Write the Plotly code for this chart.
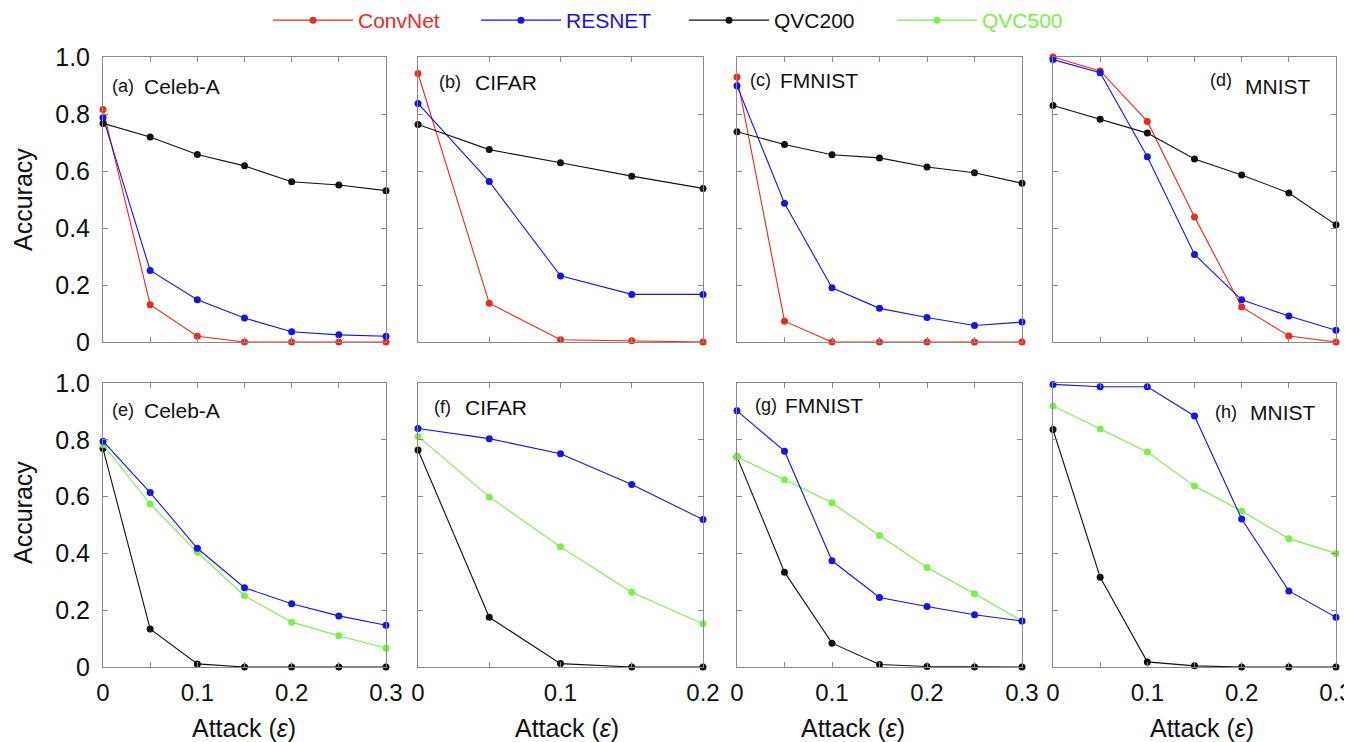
import plotly.graph_objects as go

# ---------------- data ----------------
eps7 = [0.0, 0.05, 0.10, 0.15, 0.20, 0.25, 0.30]
eps5 = [0.0, 0.05, 0.10, 0.15, 0.20]

# top row (a)-(d): ConvNet, RESNET, QVC200
celeba_convnet = [0.816, 0.131, 0.020, 0.0, 0.0, 0.0, 0.0]
celeba_resnet = [0.788, 0.251, 0.148, 0.084, 0.036, 0.025, 0.020]
celeba_qvc200 = [0.767, 0.719, 0.658, 0.618, 0.562, 0.551, 0.531]

cifar_convnet = [0.942, 0.136, 0.008, 0.004, 0.0]
cifar_resnet = [0.837, 0.563, 0.232, 0.167, 0.167]
cifar_qvc200 = [0.763, 0.675, 0.629, 0.582, 0.539]

fmnist_convnet = [0.930, 0.073, 0.0, 0.0, 0.0, 0.0, 0.0]
fmnist_resnet = [0.899, 0.487, 0.190, 0.118, 0.086, 0.058, 0.070]
fmnist_qvc200 = [0.738, 0.693, 0.657, 0.646, 0.614, 0.594, 0.557]

mnist_convnet = [1.000, 0.951, 0.774, 0.439, 0.123, 0.021, 0.0]
mnist_resnet = [0.991, 0.945, 0.650, 0.307, 0.148, 0.091, 0.041]
mnist_qvc200 = [0.830, 0.782, 0.733, 0.642, 0.586, 0.523, 0.411]

# bottom row (e)-(h): RESNET, QVC500, QVC200
celeba_b_resnet = [0.795, 0.614, 0.418, 0.279, 0.223, 0.180, 0.147]
celeba_b_qvc500 = [0.783, 0.574, 0.404, 0.251, 0.158, 0.110, 0.066]
celeba_b_qvc200 = [0.769, 0.134, 0.011, 0.0, 0.0, 0.0, 0.0]

cifar_b_resnet = [0.840, 0.804, 0.751, 0.643, 0.519]
cifar_b_qvc500 = [0.812, 0.599, 0.423, 0.263, 0.152]
cifar_b_qvc200 = [0.764, 0.175, 0.012, 0.0, 0.0]

fmnist_b_resnet = [0.902, 0.760, 0.374, 0.245, 0.213, 0.184, 0.162]
fmnist_b_qvc500 = [0.740, 0.659, 0.578, 0.463, 0.350, 0.258, 0.162]
fmnist_b_qvc200 = [0.740, 0.334, 0.084, 0.009, 0.002, 0.0, 0.0]

mnist_b_resnet = [0.995, 0.987, 0.987, 0.884, 0.521, 0.268, 0.175]
mnist_b_qvc500 = [0.919, 0.838, 0.757, 0.637, 0.549, 0.452, 0.400]
mnist_b_qvc200 = [0.836, 0.316, 0.018, 0.004, 0.0, 0.0, 0.0]

y_tick_vals = [0, 0.2, 0.4, 0.6, 0.8, 1.0]
y_tick_text = ["0", "0.2", "0.4", "0.6", "0.8", "1.0"]

panel_letters = ["(a)", "(b)", "(c)", "(d)", "(e)", "(f)", "(g)", "(h)"]
panel_names = ["Celeb-A", "CIFAR", "FMNIST", "MNIST", "Celeb-A", "CIFAR", "FMNIST", "MNIST"]

# ---------------- style ----------------
PAGE_W, PAGE_H = 1352, 742
OFF = 8  # default page body margin
W, H = PAGE_W - OFF, PAGE_H - OFF


def px(x):
    return (x - OFF) / W


def py(y):
    return 1 - (y - OFF) / H


FONT = "Arial, Liberation Sans, Helvetica, sans-serif"
COLORS = {"ConvNet": "#ee2a1e", "RESNET": "#1414ee", "QVC200": "#111111", "QVC500": "#7cef4c"}
RANK = {"ConvNet": 1, "RESNET": 2, "QVC200": 3, "QVC500": 4}
AXC = "#8a8a8a"

cols_px = [(103, 386), (418, 703), (737, 1022), (1053, 1336)]
rows_px = [(57, 342), (383, 667)]

panels = [
    (eps7, [("ConvNet", celeba_convnet), ("RESNET", celeba_resnet), ("QVC200", celeba_qvc200)]),
    (eps5, [("ConvNet", cifar_convnet), ("RESNET", cifar_resnet), ("QVC200", cifar_qvc200)]),
    (eps7, [("ConvNet", fmnist_convnet), ("RESNET", fmnist_resnet), ("QVC200", fmnist_qvc200)]),
    (eps7, [("ConvNet", mnist_convnet), ("RESNET", mnist_resnet), ("QVC200", mnist_qvc200)]),
    (eps7, [("QVC200", celeba_b_qvc200), ("QVC500", celeba_b_qvc500), ("RESNET", celeba_b_resnet)]),
    (eps5, [("QVC200", cifar_b_qvc200), ("QVC500", cifar_b_qvc500), ("RESNET", cifar_b_resnet)]),
    (eps7, [("QVC200", fmnist_b_qvc200), ("QVC500", fmnist_b_qvc500), ("RESNET", fmnist_b_resnet)]),
    (eps7, [("QVC200", mnist_b_qvc200), ("QVC500", mnist_b_qvc500), ("RESNET", mnist_b_resnet)]),
]

fig = go.Figure()
shown = set()
layout_axes = {}
for i, (xs, series) in enumerate(panels):
    r, c = divmod(i, 4)
    n = i + 1
    xa = "x" if n == 1 else f"x{n}"
    ya = "y" if n == 1 else f"y{n}"
    for name, vals in series:
        col = COLORS[name]
        fig.add_trace(go.Scatter(
            x=xs, y=vals, mode="lines+markers",
            name=f"<span style='color:{col}'>{name}</span>",
            legendgroup=name, showlegend=name not in shown, legendrank=RANK[name],
            line=dict(color=col, width=1.1),
            marker=dict(color=col, size=7),
            cliponaxis=False, xaxis=xa, yaxis=ya,
        ))
        shown.add(name)
    x0, x1 = cols_px[c]
    y0, y1 = rows_px[r]
    xmax = xs[-1]
    xt = [round(v, 2) for v in xs]
    xlabels = []
    for v in xt:
        if abs(v * 10 - round(v * 10)) < 1e-6:
            xlabels.append("0" if v == 0 else f"{v:.1f}")
        else:
            xlabels.append("")
    layout_axes[("xaxis" if n == 1 else f"xaxis{n}")] = dict(
        domain=[px(x0), px(x1)], range=[0, xmax], anchor=ya,
        showline=True, linecolor=AXC, linewidth=1, mirror="allticks",
        ticks="inside", ticklen=5, tickcolor=AXC, tickwidth=1,
        tickvals=xt, ticktext=xlabels, showticklabels=(r == 1),
        tickfont=dict(size=24, color="#111", family=FONT), ticklabelstandoff=4,
        ticklabeloverflow="allow",
        showgrid=False, zeroline=False, automargin=False,
    )
    layout_axes[("yaxis" if n == 1 else f"yaxis{n}")] = dict(
        domain=[py(y1), py(y0)], range=[0, 1.0], anchor=xa,
        showline=True, linecolor=AXC, linewidth=1, mirror="allticks",
        ticks="inside", ticklen=5, tickcolor=AXC, tickwidth=1,
        tickvals=y_tick_vals, ticktext=y_tick_text, showticklabels=(c == 0),
        tickfont=dict(size=25, color="#111", family=FONT), ticklabelstandoff=7,
        ticklabeloverflow="allow",
        showgrid=False, zeroline=False, automargin=False,
    )

fig.update_layout(**layout_axes)

ann = []
# panel labels
label_pos = [
    (110, 142, 86, 86), (437, 473, 82, 82), (748, 778, 80, 80), (1208, 1243, 80, 87),
    (110, 142, 410, 410), (432, 463, 407, 407), (753, 783, 405, 405), (1213, 1248, 412, 412),
]
for i, (lx, nx, ly, ny) in enumerate(label_pos):
    ann.append(dict(x=px(lx), y=py(ly), xref="paper", yref="paper", xanchor="left",
                    yanchor="middle", text=panel_letters[i], showarrow=False,
                    font=dict(size=18, color="#111", family=FONT)))
    ann.append(dict(x=px(nx), y=py(ny), xref="paper", yref="paper", xanchor="left",
                    yanchor="middle", text=panel_names[i], showarrow=False,
                    font=dict(size=21, color="#111", family=FONT)))
# axis titles
for yc in [200, 513]:
    ann.append(dict(x=px(23), y=py(yc), xref="paper", yref="paper", xanchor="center",
                    yanchor="middle", text="Accuracy", textangle=-90, showarrow=False,
                    font=dict(size=25, color="#111", family=FONT)))
for xc in [244, 567, 853, 1202]:
    ann.append(dict(x=px(xc), y=py(728), xref="paper", yref="paper", xanchor="center",
                    yanchor="middle", text="Attack (<i>ε</i>)", showarrow=False,
                    font=dict(size=25, color="#111", family=FONT)))

fig.update_layout(
    width=W, height=H, autosize=False,
    margin=dict(l=0, r=0, t=0, b=0, autoexpand=False),
    paper_bgcolor="white", plot_bgcolor="white",
    font=dict(family=FONT, color="#111"),
    annotations=ann,
    legend=dict(orientation="h", x=px(268), xanchor="left", y=py(0), yanchor="top",
                font=dict(size=21, family=FONT), itemwidth=80,
                entrywidth=113, entrywidthmode="pixels",
                bgcolor="rgba(0,0,0,0)", traceorder="normal"),
)

fig.write_html("out.html")
